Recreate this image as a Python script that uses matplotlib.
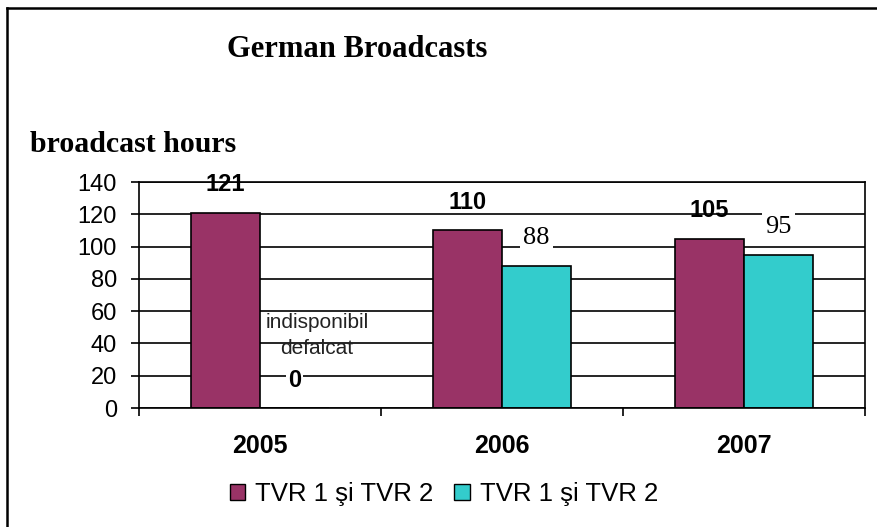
import matplotlib
matplotlib.use("Agg")
import matplotlib.pyplot as plt
from matplotlib.lines import Line2D
from matplotlib.patches import Patch
import numpy as np

# chart data
years = ['2005', '2006', '2007']
tvr_a = [121, 110, 105]
tvr_b = [0, 88, 95]
series_names = ['TVR 1 şi TVR 2', 'TVR 1 şi TVR 2']
note = 'indisponibil\ndefalcat'

plum = '#993366'
teal = '#33CCCC'

plt.rcParams['font.family'] = ['Liberation Sans', 'DejaVu Sans']

fig = plt.figure(figsize=(8.78, 5.27), dpi=100)
ax = fig.add_axes([0.1583, 0.2258, 0.8269, 0.4288])

x = np.arange(len(years))
w = 0.2857
ax.bar(x - w / 2, tvr_a, w, color=plum, edgecolor='black', linewidth=1.2, zorder=2)
ax.bar(x + w / 2, tvr_b, w, color=teal, edgecolor='black', linewidth=1.2, zorder=2)

# value labels, series 1 (bold, lines run through them)
for xi, v in zip(x, tvr_a):
    ax.annotate(str(v), (xi - w / 2, v), xytext=(0, 20), textcoords='offset points',
                ha='center', va='center', fontsize=17, fontweight='bold', zorder=0.3)

# value labels, series 2
for xi, v in zip(x, tvr_b):
    if v == 0:
        ax.annotate(str(v), (xi + w / 2, v), xytext=(0, 20), textcoords='offset points',
                    ha='center', va='center', fontsize=17, fontweight='bold', zorder=3,
                    bbox=dict(facecolor='white', edgecolor='none', pad=1.5))
        ax.annotate(note, (xi + w / 2, v), xytext=(16, 52), textcoords='offset points',
                    ha='center', va='center', fontsize=15, linespacing=1.45,
                    color='#222222', zorder=2.5)
    else:
        ax.annotate(str(v), (xi + w / 2, v), xytext=(0, 20), textcoords='offset points',
                    ha='center', va='center', fontsize=19, family='Liberation Serif',
                    zorder=3, bbox=dict(facecolor='white', edgecolor='none', pad=2))

ax.set_xlim(-0.5, 2.5)
ax.set_ylim(0, 140)
ax.set_yticks(range(0, 141, 20))
ax.set_xticks(x, years)
ax.set_xticks([-0.5, 0.5, 1.5, 2.5], minor=True)
for lab in ax.get_xticklabels():
    lab.set_fontweight('bold')

ax.tick_params(axis='y', length=6, width=1.2, pad=10, labelsize=17, color='black')
ax.tick_params(axis='x', which='major', length=0, pad=19, labelsize=18)
ax.tick_params(axis='x', which='minor', length=6, width=1.2, color='black')

ax.yaxis.grid(True, color='black', linewidth=1.2)
ax.set_axisbelow(True)
for s in ax.spines.values():
    s.set_color('black')
    s.set_linewidth(1.2)

fig.text(357 / 878, 1 - 57 / 527, 'German Broadcasts', ha='center', va='baseline',
         family='Liberation Serif', fontweight='bold', fontsize=22)
fig.text(30 / 878, 1 - 152 / 527, 'broadcast hours', ha='left', va='baseline',
         family='Liberation Serif', fontweight='bold', fontsize=21.5)

handles = [Patch(facecolor=plum, edgecolor='black'), Patch(facecolor=teal, edgecolor='black')]
fig.legend(handles, series_names, loc='center', bbox_to_anchor=(444 / 878, 1 - 494 / 527),
           ncol=2, frameon=False, fontsize=18.5, handlelength=0.6, handleheight=0.6,
           handletextpad=0.4, columnspacing=0.8)

# outer frame (left and top edges visible)
fig.add_artist(Line2D([7.5 / 878, 7.5 / 878], [0, 1 - 7.5 / 527], color='black', lw=1.8))
fig.add_artist(Line2D([7.5 / 878, 1], [1 - 7.5 / 527, 1 - 7.5 / 527], color='black', lw=1.8))

fig.savefig('out.png', dpi=100)
